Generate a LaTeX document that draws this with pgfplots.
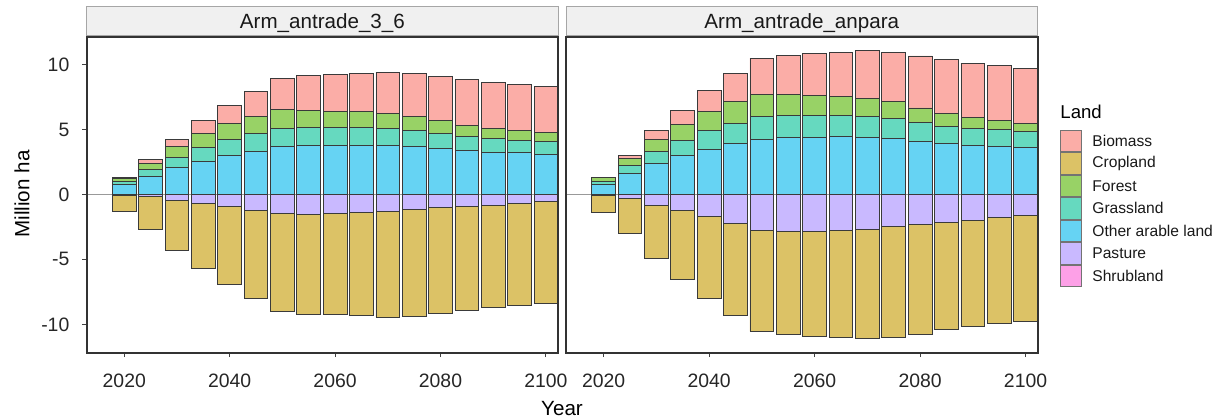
\documentclass[border=0pt]{standalone}
\usepackage{pgfplots}
\pgfplotsset{compat=1.18}
\usepackage{pgfplotstable}
\usepackage{fontspec}
\setmainfont{Liberation Sans}

\definecolor{cBiomass}{HTML}{FBADA7}
\definecolor{cCropland}{HTML}{DCC266}
\definecolor{cForest}{HTML}{98D266}
\definecolor{cGrass}{HTML}{66D9BF}
\definecolor{cOther}{HTML}{66D3F3}
\definecolor{cPasture}{HTML}{C9B9FF}
\definecolor{cShrub}{HTML}{FDA0E7}
\definecolor{cEdge}{HTML}{3A3A3A}
\definecolor{cFrame}{HTML}{333333}

% Arm_antrade_3_6 : gains (positive) and losses (negative), Million ha
\pgfplotstableread{
year other grass forest biomass
2020 0.76 0.25 0.25 0.02
2025 1.41 0.51 0.46 0.28
2030 2.08 0.79 0.85 0.54
2035 2.56 1.05 1.08 0.97
2040 3.00 1.23 1.23 1.38
2045 3.31 1.36 1.36 1.92
2050 3.67 1.41 1.46 2.41
2055 3.74 1.41 1.33 2.67
2060 3.74 1.41 1.26 2.85
2065 3.77 1.36 1.23 2.97
2070 3.77 1.31 1.15 3.18
2075 3.69 1.26 1.08 3.28
2080 3.56 1.15 0.97 3.38
2085 3.38 1.08 0.85 3.56
2090 3.26 1.03 0.77 3.59
2095 3.21 0.97 0.72 3.56
2100 3.10 0.97 0.67 3.54
}\posA
\pgfplotstableread{
year pasture cropland
2020 -0.05 -1.27
2025 -0.18 -2.54
2030 -0.46 -3.82
2035 -0.67 -5.02
2040 -0.90 -6.00
2045 -1.21 -6.76
2050 -1.49 -7.51
2055 -1.54 -7.67
2060 -1.46 -7.80
2065 -1.41 -7.92
2070 -1.28 -8.16
2075 -1.13 -8.23
2080 -1.03 -8.12
2085 -0.92 -7.98
2090 -0.82 -7.85
2095 -0.67 -7.84
2100 -0.56 -7.80
}\negA
% Arm_antrade_anpara
\pgfplotstableread{
year other grass forest biomass
2020 0.75 0.26 0.28 0.02
2025 1.59 0.62 0.54 0.26
2030 2.36 0.95 0.95 0.64
2035 2.97 1.21 1.23 1.08
2040 3.46 1.49 1.46 1.56
2045 3.90 1.59 1.64 2.18
2050 4.26 1.72 1.72 2.79
2055 4.36 1.72 1.62 3.03
2060 4.41 1.67 1.54 3.26
2065 4.44 1.67 1.46 3.38
2070 4.41 1.62 1.36 3.69
2075 4.31 1.54 1.28 3.79
2080 4.10 1.46 1.10 4.00
2085 3.90 1.36 0.95 4.15
2090 3.77 1.28 0.85 4.21
2095 3.67 1.31 0.74 4.21
2100 3.62 1.21 0.64 4.23
}\posB
\pgfplotstableread{
year pasture cropland
2020 -0.05 -1.37
2025 -0.31 -2.72
2030 -0.82 -4.08
2035 -1.26 -5.25
2040 -1.69 -6.31
2045 -2.26 -7.07
2050 -2.77 -7.77
2055 -2.85 -7.94
2060 -2.85 -8.05
2065 -2.77 -8.23
2070 -2.69 -8.41
2075 -2.46 -8.54
2080 -2.31 -8.43
2085 -2.13 -8.28
2090 -1.97 -8.18
2095 -1.79 -8.16
2100 -1.62 -8.12
}\negB

\pgfplotsset{
  panel/.style={
    scale only axis, anchor=south west,
    height=158pt,
    xmin=2012.87, xmax=2102.3, ymin=-12.18, ymax=12.14,
    ybar stacked, bar width=4.5,
    axis line style={draw=cFrame, line width=0.85pt},
    tick align=outside, major tick length=2.2pt,
    tick style={draw=black!75, line width=0.5pt},
    xtick={2020,2040,2060,2080,2100},
    ytick={-10,-5,0,5,10},
    xtick pos=bottom, ytick pos=left,
    /pgf/number format/1000 sep={},
    /pgf/number format/assume math mode=true,
    tick label style={font=\fontsize{9.7pt}{11pt}\selectfont, text=black!85, inner sep=0pt},
    xticklabel shift=8pt,
    yticklabel shift=6.3pt,
    extra y ticks={0}, extra y tick labels={},
    extra y tick style={grid=major, major grid style={draw=black!40, line width=0.6pt}, tick style={draw=none}},
  },
  bars/.style={fill=#1, draw=cEdge, line width=0.4pt, mark=none},
}

\begin{document}
\begin{tikzpicture}
\useasboundingbox (0,0) rectangle (611pt,209.5pt);

% ---------- left panel ----------
\begin{axis}[panel, at={(43.35pt,33.15pt)}, width=235.65pt]
  \addplot+[bars=cOther]   table[x=year,y=other]   {\posA};
  \addplot+[bars=cGrass]   table[x=year,y=grass]   {\posA};
  \addplot+[bars=cForest]  table[x=year,y=forest]  {\posA};
  \addplot+[bars=cBiomass] table[x=year,y=biomass] {\posA};
\end{axis}
\begin{axis}[panel, at={(43.35pt,33.15pt)}, width=235.65pt, hide axis]
  \addplot+[bars=cPasture]  table[x=year,y=pasture]  {\negA};
  \addplot+[bars=cCropland] table[x=year,y=cropland] {\negA};
\end{axis}

% ---------- right panel ----------
\begin{axis}[panel, at={(283pt,33.15pt)}, width=235.85pt, ytick=\empty, extra y ticks={0}]
  \addplot+[bars=cOther]   table[x=year,y=other]   {\posB};
  \addplot+[bars=cGrass]   table[x=year,y=grass]   {\posB};
  \addplot+[bars=cForest]  table[x=year,y=forest]  {\posB};
  \addplot+[bars=cBiomass] table[x=year,y=biomass] {\posB};
\end{axis}
\begin{axis}[panel, at={(283pt,33.15pt)}, width=235.85pt, hide axis]
  \addplot+[bars=cPasture]  table[x=year,y=pasture]  {\negB};
  \addplot+[bars=cCropland] table[x=year,y=cropland] {\negB};
\end{axis}

% ---------- frames on top ----------
\draw[cFrame, line width=0.85pt] (43.35pt,33.15pt) rectangle (279pt,191.15pt);
\draw[cFrame, line width=0.85pt] (283pt,33.15pt) rectangle (518.85pt,191.15pt);

% ---------- strips ----------
\draw[fill=black!6, draw=black!35, line width=0.5pt] (43.35pt,191.6pt) rectangle (279pt,206.5pt);
\draw[fill=black!6, draw=black!35, line width=0.5pt] (283pt,191.6pt) rectangle (518.85pt,206.5pt);
\draw[cFrame, line width=0.85pt] (43.35pt,191.15pt) -- (279pt,191.15pt);
\draw[cFrame, line width=0.85pt] (283pt,191.15pt) -- (518.85pt,191.15pt);
\node[anchor=base, inner sep=0pt, font=\fontsize{10.3pt}{12pt}\selectfont, text=black!90] at (161.2pt,195.35pt) {Arm\_antrade\_3\_6};
\node[anchor=base, inner sep=0pt, font=\fontsize{10.3pt}{12pt}\selectfont, text=black!90] at (400.9pt,195.35pt) {Arm\_antrade\_anpara};

% ---------- axis titles ----------
\node[anchor=base, inner sep=0pt, font=\fontsize{10.3pt}{12pt}\selectfont] at (281pt,2pt) {Year};
\node[rotate=90, anchor=center, inner sep=0pt, font=\fontsize{10.3pt}{12pt}\selectfont] at (11pt,112.5pt) {Million ha};

% ---------- legend ----------
\node[anchor=base west, inner sep=0pt, font=\fontsize{9.3pt}{11pt}\selectfont] at (530pt,150.35pt) {Land};
\foreach \c/\t [count=\i from 0] in {cBiomass/Biomass, cCropland/Cropland, cForest/Forest, cGrass/Grassland, cOther/Other arable land, cPasture/Pasture, cShrub/Shrubland}{
  \pgfmathsetmacro{\ytop}{(419-130-22.5*\i)*0.5}
  \draw[fill=\c, draw=black!55, line width=0.4pt] (530pt,\ytop pt) rectangle (540.85pt,\ytop pt-10.85pt);
  \node[anchor=west, inner sep=0pt, font=\fontsize{7.8pt}{9pt}\selectfont, text=black!90] at (546pt,\ytop pt-5.4pt) {\t};
}
\end{tikzpicture}
\end{document}
